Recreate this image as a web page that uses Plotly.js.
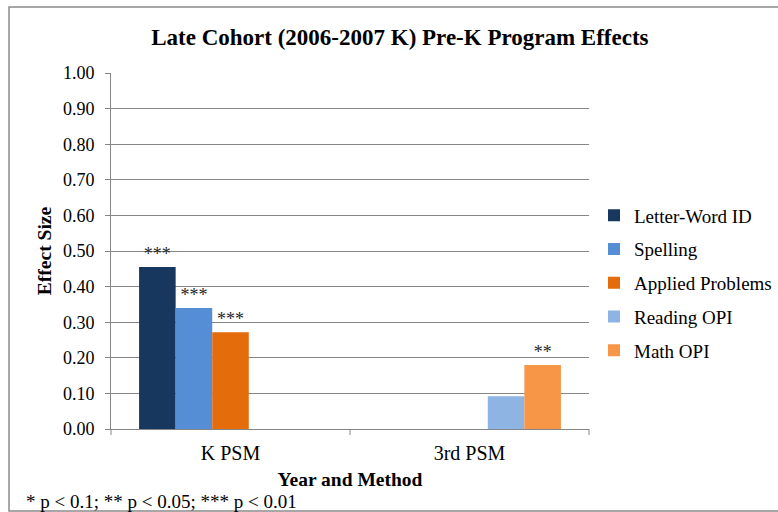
<!DOCTYPE html>
<html>
<head>
<meta charset="utf-8">
<script src="https://cdn.plot.ly/plotly-3.0.1.min.js"></script>
<style>html,body{margin:0;padding:0;background:#fff;}#chart{width:778px;height:512px;}</style>
</head>
<body>
<div id="chart"></div>
<script>
const categories = ["K PSM", "3rd PSM"];
const seriesNames = ["Letter-Word ID", "Spelling", "Applied Problems", "Reading OPI", "Math OPI"];
const letterWordID = [0.455, null];
const spelling = [0.34, null];
const appliedProblems = [0.272, null];
const readingOPI = [null, 0.092];
const mathOPI = [null, 0.18];
const significance = [["***", null], ["***", null], ["***", null], [null, null], [null, "**"]];
const colors = ["#17375E", "#558ED5", "#E46C0A", "#8EB4E3", "#F79646"];
const footnote = "* p < 0.1; ** p < 0.05; *** p < 0.01";

const seriesValues = [letterWordID, spelling, appliedProblems, readingOPI, mathOPI];
const serif = "Times New Roman, serif";

const traces = seriesValues.map((vals, i) => ({
  type: "bar",
  name: seriesNames[i],
  x: categories,
  y: vals,
  marker: {color: colors[i]},
  legendgroup: "g" + i,
  text: significance[i].map(s => s || ""),
  textposition: "outside",
  textfont: {family: serif, size: 18, color: "#262626"},
  cliponaxis: false,
  hoverinfo: "none"
}));

const layout = {
  width: 778, height: 512,
  margin: {l: 111, r: 189, t: 73, b: 83, autoexpand: false},
  paper_bgcolor: "#fff", plot_bgcolor: "#fff",
  barmode: "group", bargap: 0.235, bargroupgap: 0,
  font: {family: serif, size: 18, color: "#000"},
  title: {text: "<b>Late Cohort (2006-2007 K) Pre-K Program Effects</b>", font: {family: serif, size: 23, color: "#000"},
    x: 0.514, xanchor: "center", xref: "container", y: 1 - 37/512, yanchor: "middle", yref: "container"},
  xaxis: {
    type: "category",
    showgrid: false, showline: true, linecolor: "#868686", linewidth: 1,
    ticks: "outside", ticklen: 0, ticklabelstandoff: 6,
    tickfont: {family: serif, size: 20, color: "#000"},
    title: {text: "<b>Year and Method</b>", font: {family: serif, size: 19.5, color: "#000"}, standoff: 9}
  },
  yaxis: {
    range: [0, 1], dtick: 0.1, tick0: 0, tickformat: ".2f",
    showgrid: true, gridcolor: "#868686", gridwidth: 1,
    showline: true, linecolor: "#868686", linewidth: 1,
    ticks: "outside", ticklen: 5, tickcolor: "#868686", ticklabelstandoff: 7,
    tickfont: {family: serif, size: 18, color: "#000"},
    zeroline: false,
    title: {text: "<b>Effect Size</b>", font: {family: serif, size: 19.5, color: "#000"}, standoff: 6}
  },
  legend: {
    x: (594 - 111) / 478, xanchor: "left", y: (429 - 283) / 356, yanchor: "middle",
    traceorder: "grouped", tracegroupgap: 6,
    font: {family: serif, size: 19, color: "#000"},
    bgcolor: "rgba(0,0,0,0)", itemwidth: 30
  },
  showlegend: true,
  shapes: [
    {type: "rect", xref: "paper", yref: "paper",
     x0: (9 - 111) / 478, x1: (800 - 111) / 478, y0: (429 - 511) / 356, y1: (429 - 7) / 356,
     line: {color: "#8a8a8a", width: 1.5}, fillcolor: "rgba(0,0,0,0)"},
    {type: "line", xref: "paper", yref: "paper", x0: 0.5, x1: 0.5, y0: 0, y1: -6/356, line: {color: "#868686", width: 1}},
    {type: "line", xref: "paper", yref: "paper", x0: 1, x1: 1, y0: 0, y1: -6/356, line: {color: "#868686", width: 1}},
    {type: "line", xref: "paper", yref: "paper", x0: 0, x1: 0, y0: 0, y1: -6/356, line: {color: "#868686", width: 1}}
  ],
  annotations: [
    {text: footnote, xref: "paper", yref: "paper", x: (24 - 111) / 478, y: (429 - 501) / 356,
     xanchor: "left", yanchor: "middle", showarrow: false, font: {family: serif, size: 19, color: "#000"}}
  ]
};

Plotly.newPlot("chart", traces, layout, {staticPlot: true});
</script>
</body>
</html>
